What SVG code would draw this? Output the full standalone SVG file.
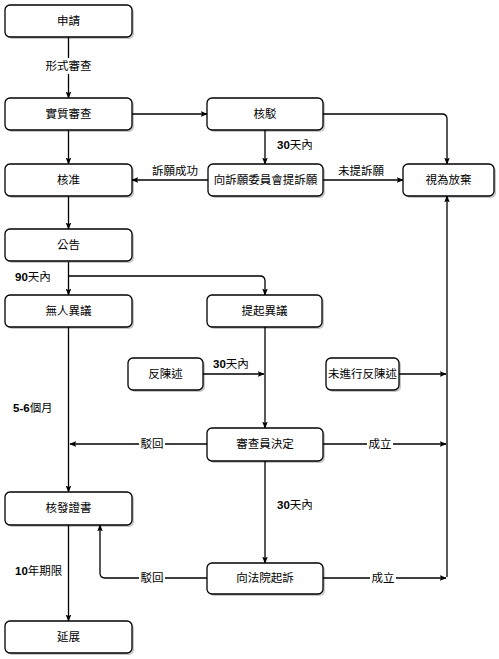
<svg xmlns="http://www.w3.org/2000/svg" width="499" height="659" viewBox="0 0 499 659">
<defs>
<marker id="arr" viewBox="0 0 10 10" refX="9" refY="5" markerWidth="7" markerHeight="7" markerUnits="userSpaceOnUse" orient="auto">
<path d="M0,1 L10,5 L0,9 L2,5 Z" fill="#000"/>
</marker>
<style>
.box{fill:#fff;stroke:#000;stroke-width:1.3}
.sh{fill:#000;opacity:0.22}
.t{font-family:"Liberation Sans","Noto Sans CJK TC",sans-serif;font-size:11.5px;fill:#000;text-anchor:middle}
.l{font-family:"Liberation Sans","Noto Sans CJK TC",sans-serif;font-size:11.5px;fill:#000}
.b{font-weight:bold}
.e{fill:none;stroke:#000;stroke-width:1.3;marker-end:url(#arr)}
.ln{fill:none;stroke:#000;stroke-width:1.3}
.bg{fill:#fff}
</style>
</defs>
<rect width="499" height="659" fill="#fff"/>
<g id="connectors">
<path class="e" d="M68.5,37 V98"/>
<path class="e" d="M68.5,130 V164"/>
<path class="e" d="M132,114 H207"/>
<path class="e" d="M323,114 H442 Q447,114 447,119 V164"/>
<path class="e" d="M265,130 V164"/>
<path class="e" d="M208,180 H132"/>
<path class="e" d="M323,180 H403"/>
<path class="e" d="M68.5,196 V229"/>
<path class="e" d="M68.5,262 V295"/>
<path class="e" d="M68.5,276 H260 Q265,276 265,281 V295"/>
<path class="e" d="M265,327 V428"/>
<path class="e" d="M203,374 H264"/>
<path class="e" d="M399,374 H446"/>
<path class="e" d="M447,577 V196"/>
<path class="e" d="M323,444 H446"/>
<path class="e" d="M207,444 H70"/>
<path class="e" d="M68.5,327 V492"/>
<path class="e" d="M265,461 V563"/>
<path class="e" d="M323,578 H446"/>
<path class="e" d="M207,578 H105 Q100,578 100,573 V525"/>
<path class="e" d="M68.5,525 V621"/>
<rect class="bg" x="43" y="58" width="51" height="16"/>
<text class="t" x="68.5" y="70">形式審查</text>
<text class="t" x="175" y="175">訴願成功</text>
<text class="t" x="361" y="175">未提訴願</text>
<text class="l" x="277" y="149"><tspan class="b">30</tspan>天內</text>
<text class="l" x="15" y="281"><tspan class="b">90</tspan>天內</text>
<text class="l" x="213" y="368"><tspan class="b">30</tspan>天內</text>
<rect class="bg" x="367" y="436" width="26" height="16"/>
<text class="t" x="380" y="448">成立</text>
<rect class="bg" x="139" y="436" width="26" height="16"/>
<text class="t" x="152" y="448">駁回</text>
<text class="l" x="13" y="412"><tspan class="b">5-6</tspan>個月</text>
<text class="l" x="277" y="509"><tspan class="b">30</tspan>天內</text>
<rect class="bg" x="370" y="570" width="26" height="16"/>
<text class="t" x="383" y="582">成立</text>
<rect class="bg" x="139" y="570" width="26" height="16"/>
<text class="t" x="152" y="582">駁回</text>
<text class="l" x="15" y="575"><tspan class="b">10</tspan>年期限</text>
</g>
<g id="n1"><rect class="sh" x="7" y="7" width="127" height="32" rx="5"/><rect class="box" x="5" y="5" width="127" height="32" rx="5"/><text class="t" x="68.5" y="25">申請</text></g>
<g id="n2"><rect class="sh" x="7" y="100" width="127" height="32" rx="5"/><rect class="box" x="5" y="98" width="127" height="32" rx="5"/><text class="t" x="68.5" y="118">實質審查</text></g>
<g id="n3"><rect class="sh" x="209" y="100" width="116" height="32" rx="5"/><rect class="box" x="207" y="98" width="116" height="32" rx="5"/><text class="t" x="265" y="118">核駁</text></g>
<g id="n4"><rect class="sh" x="7" y="166" width="127" height="32" rx="5"/><rect class="box" x="5" y="164" width="127" height="32" rx="5"/><text class="t" x="68.5" y="184">核准</text></g>
<g id="n5"><rect class="sh" x="210" y="166" width="115" height="32" rx="5"/><rect class="box" x="208" y="164" width="115" height="32" rx="5"/><text class="t" x="265.5" y="184">向訴願委員會提訴願</text></g>
<g id="n6"><rect class="sh" x="405" y="166" width="91" height="32" rx="5"/><rect class="box" x="403" y="164" width="91" height="32" rx="5"/><text class="t" x="448.5" y="184">視為放棄</text></g>
<g id="n7"><rect class="sh" x="7" y="231" width="127" height="32" rx="5"/><rect class="box" x="5" y="229" width="127" height="32" rx="5"/><text class="t" x="68.5" y="249">公告</text></g>
<g id="n8"><rect class="sh" x="7" y="297" width="127" height="32" rx="5"/><rect class="box" x="5" y="295" width="127" height="32" rx="5"/><text class="t" x="68.5" y="315">無人異議</text></g>
<g id="n9"><rect class="sh" x="209" y="297" width="115" height="32" rx="5"/><rect class="box" x="207" y="295" width="115" height="32" rx="5"/><text class="t" x="264.5" y="315">提起異議</text></g>
<g id="n10"><rect class="sh" x="130" y="360" width="75" height="32" rx="5"/><rect class="box" x="128" y="358" width="75" height="32" rx="5"/><text class="t" x="165.5" y="378">反陳述</text></g>
<g id="n11"><rect class="sh" x="328" y="360" width="73" height="32" rx="5"/><rect class="box" x="326" y="358" width="73" height="32" rx="5"/><text class="t" x="362.5" y="378">未進行反陳述</text></g>
<g id="n12"><rect class="sh" x="209" y="430" width="116" height="33" rx="5"/><rect class="box" x="207" y="428" width="116" height="33" rx="5"/><text class="t" x="265" y="448">審查員決定</text></g>
<g id="n13"><rect class="sh" x="7" y="494" width="127" height="33" rx="5"/><rect class="box" x="5" y="492" width="127" height="33" rx="5"/><text class="t" x="68.5" y="512">核發證書</text></g>
<g id="n14"><rect class="sh" x="209" y="565" width="116" height="31" rx="5"/><rect class="box" x="207" y="563" width="116" height="31" rx="5"/><text class="t" x="265" y="582">向法院起訴</text></g>
<g id="n15"><rect class="sh" x="7" y="623" width="127" height="32" rx="5"/><rect class="box" x="5" y="621" width="127" height="32" rx="5"/><text class="t" x="68.5" y="641">延展</text></g>
</svg>
